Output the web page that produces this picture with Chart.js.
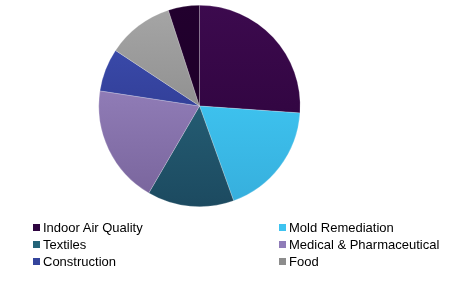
<!DOCTYPE html>
<html>
<head>
<meta charset="utf-8">
<script src="https://cdn.jsdelivr.net/npm/chart.js@4/dist/chart.umd.min.js"></script>
<style>
  html, body { margin: 0; padding: 0; background: #fff; }
  #wrap { position: relative; width: 457px; height: 292px; }
  #c { position: absolute; left: 0; top: 0; }
  #legend { position: absolute; left: 0; top: 0; width: 457px; height: 292px; pointer-events: none;
    font-family: "Liberation Sans", Arial, sans-serif; font-size: 13px; color: #000; }
  .item { position: absolute; white-space: nowrap; line-height: 15px; }
  .sw { position: absolute; width: 7px; height: 7px; left: -10px; top: 4px; }
</style>
</head>
<body>
<div id="wrap">
  <canvas id="c" width="457" height="292"></canvas>
  <div id="legend"></div>
</div>
<script>
const categories = ["Indoor Air Quality", "Mold Remediation", "Textiles", "Medical & Pharmaceutical", "Construction", "Food", "Others"];
const shares = [26.1, 18.4, 13.9, 19.0, 6.9, 10.7, 5.0];
const legendShown = [true, true, true, true, true, true, false];
const topColors = ["#3c0a4e", "#44d4ff", "#2c6d84", "#a28ecb", "#3e50b4", "#a6a6a6", "#22002e"];
const bottomColors = ["#2a0238", "#36aedc", "#1c4a60", "#77639a", "#283080", "#7c7c7c", "#1a0024"];
const legendColors = ["#2e0540", "#3ec3f0", "#236378", "#8f7cb8", "#34449c", "#8c8c8c", "#1e0028"];

const ctx = document.getElementById('c').getContext('2d');
function grad(context) {
  const chart = context.chart;
  const i = context.dataIndex;
  const a = chart.chartArea;
  if (!a) return topColors[i];
  const g = chart.ctx.createLinearGradient(0, a.top, 0, a.bottom);
  g.addColorStop(0, topColors[i]);
  g.addColorStop(1, bottomColors[i]);
  return g;
}

new Chart(ctx, {
  type: 'pie',
  data: {
    labels: categories,
    datasets: [{
      data: shares,
      backgroundColor: grad,
      borderWidth: 0.6,
      borderColor: 'rgba(255,255,255,0.35)'
    }]
  },
  options: {
    responsive: false,
    animation: false,
    rotation: 0,
    layout: { padding: { left: 0, right: 58, top: 5, bottom: 85 } },
    plugins: {
      legend: { display: false },
      tooltip: { enabled: false }
    }
  }
});

// legend in two columns
const leg = document.getElementById('legend');
const colX = [43, 289];
const rowY = [220, 237, 254];
let k = 0;
categories.forEach((name, i) => {
  if (!legendShown[i]) return;
  const d = document.createElement('div');
  d.className = 'item';
  d.style.left = colX[k % 2] + 'px';
  d.style.top = rowY[Math.floor(k / 2)] + 'px';
  const s = document.createElement('span');
  s.className = 'sw';
  s.style.background = legendColors[i];
  d.appendChild(s);
  d.appendChild(document.createTextNode(name));
  leg.appendChild(d);
  k++;
});
</script>
</body>
</html>
